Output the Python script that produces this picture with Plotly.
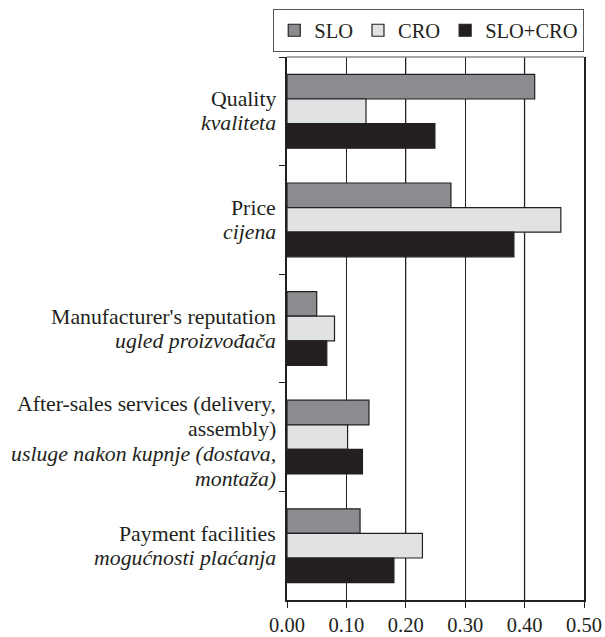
import plotly.graph_objects as go

categories = ["Quality", "Price", "Manufacturer's reputation",
              "After-sales services (delivery, assembly)", "Payment facilities"]
label_en = [["Quality"], ["Price"], ["Manufacturer's reputation"],
            ["After-sales services (delivery,", "assembly)"], ["Payment facilities"]]
label_hr = [["kvaliteta"], ["cijena"], ["ugled proizvođača"],
            ["usluge nakon kupnje (dostava,", "montaža)"], ["mogućnosti plaćanja"]]

slo = [0.417, 0.276, 0.050, 0.138, 0.123]
cro = [0.133, 0.461, 0.080, 0.102, 0.228]
slo_cro = [0.249, 0.382, 0.067, 0.127, 0.180]

series_names = ["SLO", "CRO", "SLO+CRO"]
x_ticks = [0.0, 0.1, 0.2, 0.3, 0.4, 0.5]

FONT = "Liberation Serif"
INK = "#231f20"
colors = ["#8b8c8f", "#e1e2e4", "#231f20"]

fig = go.Figure()
for name, vals, col in zip(series_names, [slo, cro, slo_cro], colors):
    fig.add_trace(go.Bar(
        y=categories, x=vals, name=name, orientation="h",
        marker=dict(color=col, line=dict(color=INK, width=1.2)),
    ))

# alternating grid lines (gray at 0.2, 0.4)
for i, v in enumerate(x_ticks):
    if i in (2, 4):
        fig.add_shape(type="line", xref="x", yref="paper", x0=v, x1=v, y0=0, y1=1,
                      line=dict(color="#8a8a8a", width=1.5), layer="below")
# top border (gray)
fig.add_shape(type="line", xref="paper", yref="paper", x0=0, x1=1, y0=1, y1=1,
              line=dict(color="#8a8a8a", width=1.5))

# category labels as annotations (line-by-line for tighter spacing)
spacing = 24
for cat, en, hr in zip(categories, label_en, label_hr):
    lines = [(t, False) for t in en] + [(t, True) for t in hr]
    n = len(lines)
    extra = 4 if n > 2 else 0
    for k, (t, it) in enumerate(lines):
        fig.add_annotation(
            xref="paper", yref="y", x=0, y=cat, xanchor="right", yanchor="middle",
            xshift=-9, yshift=-(k - (n - 1) / 2) * (spacing + 1 if n > 2 else spacing) - extra,
            text=f"<i>{t}</i>" if it else t, showarrow=False,
            font=dict(family=FONT, size=21.8, color=INK),
        )

fig.update_layout(
    width=605, height=637,
    margin=dict(l=287, r=21, t=57, b=37, autoexpand=False),
    paper_bgcolor="white", plot_bgcolor="white",
    barmode="group", bargap=0.32, bargroupgap=0,
    font=dict(family=FONT, size=20.5, color=INK),
    showlegend=True,
    legend=dict(orientation="h", x=-0.047, xanchor="left", y=1.088, yanchor="top",
                bordercolor="#555555", borderwidth=1.2, bgcolor="white",
                font=dict(family=FONT, size=20.5, color=INK),
                traceorder="normal", itemwidth=30),
    xaxis=dict(range=[0, 0.5], tickvals=x_ticks, tickformat=".2f",
               showgrid=True, gridcolor=INK, gridwidth=1.2,
               ticks="outside", ticklen=6, tickcolor=INK, tickwidth=1.2,
               showline=True, linecolor=INK, linewidth=1.5, zeroline=False,
               tickfont=dict(family=FONT, size=20.5, color=INK)),
    yaxis=dict(autorange="reversed", type="category", tickson="boundaries",
               ticks="outside", ticklen=6, tickcolor=INK, tickwidth=1.2,
               showticklabels=False, showgrid=False,
               showline=True, linecolor=INK, linewidth=1.5, mirror=True),
)

fig.write_html("out.html", config={"displayModeBar": False},
               post_script="document.body.style.margin='0';document.body.style.overflow='hidden';")
